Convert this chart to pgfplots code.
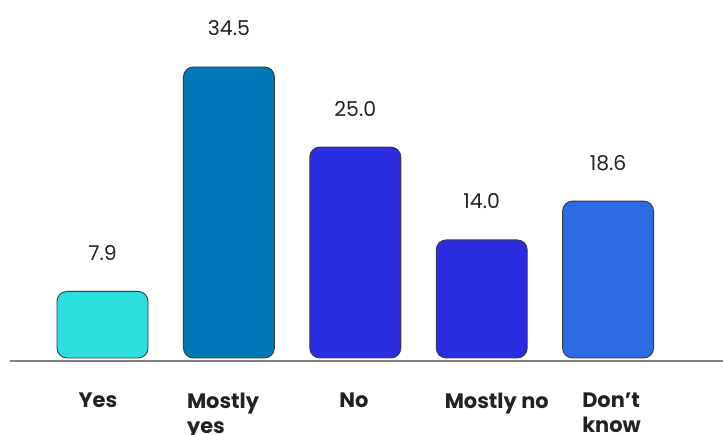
\documentclass[border=0pt]{standalone}
\usepackage{pgfplots}
\pgfplotsset{compat=1.18}
\usepackage{fontspec}
\setmainfont{Poppins}

\definecolor{cYes}{HTML}{2CDEE0}
\definecolor{cMostlyYes}{HTML}{0077B6}
\definecolor{cNo}{HTML}{2B2EE0}
\definecolor{cMostlyNo}{HTML}{2B2EE0}
\definecolor{cDontKnow}{HTML}{2B6AE0}
\definecolor{txt}{HTML}{222222}
\definecolor{edge}{HTML}{3A3A3A}
\definecolor{baseline}{HTML}{808080}

\begin{document}
\begin{tikzpicture}
\begin{axis}[
  scale only axis,
  width=713bp, height=361bp,
  xmin=-0.732, xmax=4.909,
  ymin=-0.356, ymax=42.44,
  axis x line*=bottom,
  axis y line=none,
  axis line style={-, draw=baseline, line width=1.2bp},
  ytick=\empty,
  xtick={-0.190,0.667,1.873,2.706,3.794},
  xticklabels={Yes, Mostly\\yes, No, Mostly no, Don’t\\know},
  major tick length=0pt,
  xticklabel style={anchor=north west, inner sep=0pt, align=left,
    font=\fontsize{21}{25}\selectfont\bfseries, text=txt, yshift=-31.5bp},
  ybar, bar width=0.72,
  every axis plot/.append style={bar shift=0pt, draw=edge, line width=0.9bp,
    rounded corners=10bp},
  nodes near coords,
  nodes near coords style={anchor=base, yshift=31bp, inner sep=0pt,
    font=\fontsize{20.5}{24}\selectfont, text=txt,
    /pgf/number format/.cd, fixed, fixed zerofill, precision=1,
    assume math mode=true},
  clip=false,
]
\addplot[fill=cYes]       coordinates {(0,7.9)};
\addplot[fill=cMostlyYes] coordinates {(1,34.5)};
\addplot[fill=cNo]        coordinates {(2,25.0)};
\addplot[fill=cMostlyNo]  coordinates {(3,14.0)};
\addplot[fill=cDontKnow]  coordinates {(4,18.6)};
\end{axis}
\pgfresetboundingbox
\path (current axis.south west) ++(-10bp,-74bp) rectangle (current axis.north east);
\end{tikzpicture}
\end{document}
